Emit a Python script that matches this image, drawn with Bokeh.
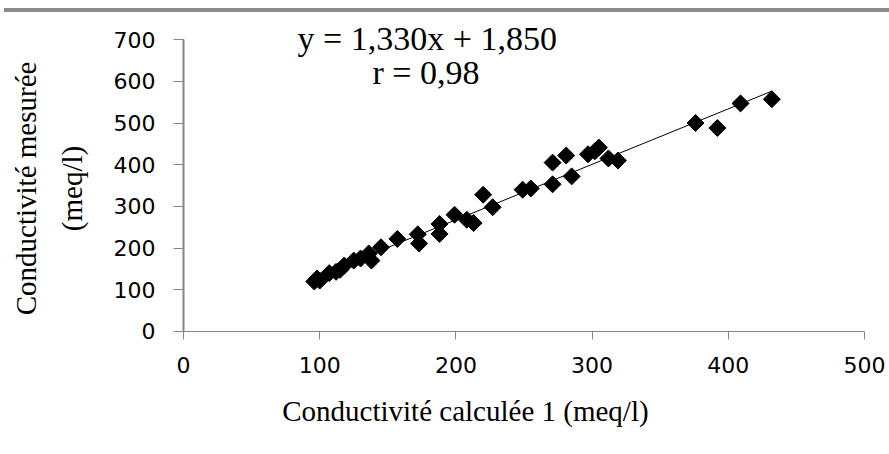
import math
from bokeh.plotting import figure
from bokeh.models import Range1d, Label, Div, FixedTicker
from bokeh.layouts import column
from bokeh.embed import file_html
from bokeh.resources import INLINE

# Data
x_calc = [96, 98, 100, 107, 112, 115, 118, 125, 130, 136, 138, 145, 157, 172, 173,
          188, 188, 199, 208, 213, 220, 227, 249, 255, 271, 271, 281, 285, 297, 302,
          305, 312, 319, 376, 392, 409, 432]
y_meas = [120, 127, 122, 140, 143, 148, 158, 170, 175, 187, 170, 202, 222, 233, 211,
          258, 234, 280, 268, 260, 328, 298, 340, 343, 353, 405, 422, 372, 425, 432,
          441, 415, 410, 500, 488, 547, 557]

slope = 1.330
intercept = 1.850
x_ticks = [0, 100, 200, 300, 400, 500]
y_ticks = [0, 100, 200, 300, 400, 500, 600, 700]
equation_text = "y = 1,330x + 1,850"
r_text = "r = 0,98"
x_title = "Conductivité calculée 1 (meq/l)"
y_title_1 = "Conductivité mesurée"
y_title_2 = "(meq/l)"

serif = "Liberation Serif"
sans = "DejaVu Sans"

# frame covers the whole canvas; axes are pinned at x=0 / y=0
p = figure(width=889, height=442, output_backend="svg", toolbar_location=None,
           x_range=Range1d(-134.4, 518.4), y_range=Range1d(-295, 765),
           min_border_left=0, min_border_right=0, min_border_top=0,
           min_border_bottom=0)
p.outline_line_color = None
p.xgrid.visible = False
p.ygrid.visible = False
p.background_fill_color = "white"
p.border_fill_color = "white"

for ax in (p.xaxis, p.yaxis):
    ax.axis_line_color = "#868686"
    ax.major_tick_line_color = "#868686"
    ax.minor_tick_line_color = None
    ax.major_tick_in = 0
    ax.major_label_text_font = sans
    ax.major_label_text_font_size = "22px"
    ax.major_label_text_color = "black"

p.xaxis.fixed_location = 0
p.yaxis.fixed_location = 0
p.xaxis.bounds = (0, 500)
p.yaxis.bounds = (0, 700)
p.xaxis.ticker = FixedTicker(ticks=x_ticks)
p.yaxis.ticker = FixedTicker(ticks=y_ticks)
p.xaxis.major_tick_out = 8
p.yaxis.major_tick_out = 10
p.xaxis.axis_line_width = 1
p.yaxis.axis_line_width = 2
p.xaxis.major_label_standoff = 18
p.yaxis.major_label_standoff = 18

# trend line
x0, x1 = min(x_calc), max(x_calc)
p.line([x0, x1], [slope * x0 + intercept, slope * x1 + intercept],
       line_color="black", line_width=1)

p.scatter(x_calc, y_meas, marker="square", size=12, angle=math.pi / 4,
          fill_color="black", line_color="black")

p.add_layout(Label(x=179, y=703, text=equation_text, text_font=serif,
                   text_font_size="34px", text_align="center",
                   text_baseline="middle", text_color="black"))
p.add_layout(Label(x=178, y=620, text=r_text, text_font=serif,
                   text_font_size="34px", text_align="center",
                   text_baseline="middle", text_color="black"))

p.add_layout(Label(x=207, y=-190, text=x_title, text_font=serif,
                   text_font_size="29px", text_align="center",
                   text_baseline="middle", text_color="black"))
p.add_layout(Label(x=-116, y=343, text=y_title_1, text_font=serif,
                   text_font_size="29px", text_align="center", angle=math.pi / 2,
                   text_baseline="middle", text_color="black"))
p.add_layout(Label(x=-82, y=343, text=y_title_2, text_font=serif,
                   text_font_size="29px", text_align="center", angle=math.pi / 2,
                   text_baseline="middle", text_color="black"))

rule = Div(text="", width=885, height=4, margin=(8, 0, 0, 4),
           styles={"background-color": "#8a8a8a"})

layout = column(rule, p, spacing=0)
open("out.html", "w").write(file_html(layout, INLINE))
